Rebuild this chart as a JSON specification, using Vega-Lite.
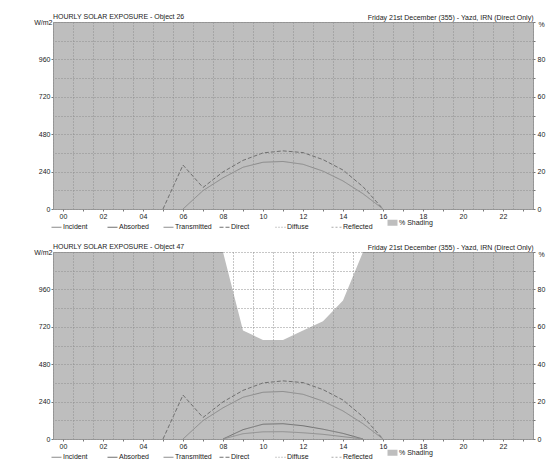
{
  "$schema": "https://vega.github.io/schema/vega-lite/v6.json",
  "padding": {"left": 33, "top": 12, "right": 5, "bottom": 0},
  "background": "white",
  "config": {
    "font": "Liberation Sans",
    "view": {"fill": "#bebebe", "stroke": "#9a9a9a", "strokeWidth": 1},
    "axis": {
      "labelFontSize": 7, "titleFontSize": 7, "titleFontWeight": "normal",
      "labelColor": "#222", "titleColor": "#222", "tickColor": "#777",
      "domain": false, "gridColor": "#8e8e8e", "gridDash": [1, 2], "gridWidth": 1,
      "tickSize": 2, "labelPadding": 1
    },
    "title": {"fontSize": 7, "fontWeight": "normal", "anchor": "start", "color": "#222", "frame": "group"},
    "legend": {
      "title": null, "orient": "bottom", "direction": "horizontal", "columns": 7,
      "gridAlign": "all", "labelFontSize": 7, "labelColor": "#222",
      "symbolType": "stroke", "symbolSize": 100, "symbolStrokeWidth": 1.2,
      "labelOffset": 3, "columnPadding": -5, "offset": 0, "padding": 0
    }
  },
  "datasets": {
    "shade26": [
      {"hour": 0, "shading": 100}, {"hour": 1, "shading": 100}, {"hour": 2, "shading": 100}, {"hour": 3, "shading": 100},
      {"hour": 4, "shading": 100}, {"hour": 5, "shading": 100}, {"hour": 6, "shading": 100}, {"hour": 7, "shading": 100},
      {"hour": 8, "shading": 100}, {"hour": 9, "shading": 100}, {"hour": 10, "shading": 100}, {"hour": 11, "shading": 100},
      {"hour": 12, "shading": 100}, {"hour": 13, "shading": 100}, {"hour": 14, "shading": 100}, {"hour": 15, "shading": 100},
      {"hour": 16, "shading": 100}, {"hour": 17, "shading": 100}, {"hour": 18, "shading": 100}, {"hour": 19, "shading": 100},
      {"hour": 20, "shading": 100}, {"hour": 21, "shading": 100}, {"hour": 22, "shading": 100}, {"hour": 23, "shading": 100}
    ],
    "shade47": [
      {"hour": 0, "shading": 100}, {"hour": 1, "shading": 100}, {"hour": 2, "shading": 100}, {"hour": 3, "shading": 100},
      {"hour": 4, "shading": 100}, {"hour": 5, "shading": 100}, {"hour": 6, "shading": 100}, {"hour": 7, "shading": 100},
      {"hour": 8, "shading": 100}, {"hour": 9, "shading": 58}, {"hour": 10, "shading": 53}, {"hour": 11, "shading": 53},
      {"hour": 12, "shading": 58}, {"hour": 13, "shading": 63}, {"hour": 14, "shading": 74}, {"hour": 15, "shading": 100},
      {"hour": 16, "shading": 100}, {"hour": 17, "shading": 100}, {"hour": 18, "shading": 100}, {"hour": 19, "shading": 100},
      {"hour": 20, "shading": 100}, {"hour": 21, "shading": 100}, {"hour": 22, "shading": 100}, {"hour": 23, "shading": 100}
    ],
    "lines26": [
      {"series": "Direct", "hour": 5, "value": 0}, {"series": "Direct", "hour": 6, "value": 282},
      {"series": "Direct", "hour": 7, "value": 138}, {"series": "Direct", "hour": 8, "value": 238},
      {"series": "Direct", "hour": 9, "value": 312}, {"series": "Direct", "hour": 10, "value": 360},
      {"series": "Direct", "hour": 11, "value": 373}, {"series": "Direct", "hour": 12, "value": 362},
      {"series": "Direct", "hour": 13, "value": 317}, {"series": "Direct", "hour": 14, "value": 250},
      {"series": "Direct", "hour": 15, "value": 143}, {"series": "Direct", "hour": 16, "value": 0},
      {"series": "Incident", "hour": 6, "value": 0}, {"series": "Incident", "hour": 7, "value": 118},
      {"series": "Incident", "hour": 8, "value": 200}, {"series": "Incident", "hour": 9, "value": 268},
      {"series": "Incident", "hour": 10, "value": 300}, {"series": "Incident", "hour": 11, "value": 305},
      {"series": "Incident", "hour": 12, "value": 287}, {"series": "Incident", "hour": 13, "value": 243},
      {"series": "Incident", "hour": 14, "value": 180}, {"series": "Incident", "hour": 15, "value": 98},
      {"series": "Incident", "hour": 16, "value": 0}
    ],
    "lines47": [
      {"series": "Direct", "hour": 5, "value": 0}, {"series": "Direct", "hour": 6, "value": 282},
      {"series": "Direct", "hour": 7, "value": 138}, {"series": "Direct", "hour": 8, "value": 238},
      {"series": "Direct", "hour": 9, "value": 312}, {"series": "Direct", "hour": 10, "value": 360},
      {"series": "Direct", "hour": 11, "value": 373}, {"series": "Direct", "hour": 12, "value": 362},
      {"series": "Direct", "hour": 13, "value": 317}, {"series": "Direct", "hour": 14, "value": 250},
      {"series": "Direct", "hour": 15, "value": 143}, {"series": "Direct", "hour": 16, "value": 0},
      {"series": "Incident", "hour": 6, "value": 0}, {"series": "Incident", "hour": 7, "value": 118},
      {"series": "Incident", "hour": 8, "value": 200}, {"series": "Incident", "hour": 9, "value": 268},
      {"series": "Incident", "hour": 10, "value": 300}, {"series": "Incident", "hour": 11, "value": 305},
      {"series": "Incident", "hour": 12, "value": 287}, {"series": "Incident", "hour": 13, "value": 243},
      {"series": "Incident", "hour": 14, "value": 180}, {"series": "Incident", "hour": 15, "value": 98},
      {"series": "Incident", "hour": 16, "value": 0},
      {"series": "Absorbed", "hour": 8, "value": 0}, {"series": "Absorbed", "hour": 9, "value": 60},
      {"series": "Absorbed", "hour": 10, "value": 95}, {"series": "Absorbed", "hour": 11, "value": 98},
      {"series": "Absorbed", "hour": 12, "value": 85}, {"series": "Absorbed", "hour": 13, "value": 63},
      {"series": "Absorbed", "hour": 14, "value": 36}, {"series": "Absorbed", "hour": 15, "value": 0},
      {"series": "Transmitted", "hour": 8, "value": 0}, {"series": "Transmitted", "hour": 9, "value": 34},
      {"series": "Transmitted", "hour": 10, "value": 46}, {"series": "Transmitted", "hour": 11, "value": 47},
      {"series": "Transmitted", "hour": 12, "value": 40}, {"series": "Transmitted", "hour": 13, "value": 30},
      {"series": "Transmitted", "hour": 14, "value": 15}, {"series": "Transmitted", "hour": 15, "value": 0}
    ]
  },
  "spacing": 6,
  "resolve": {"scale": {"color": "independent", "strokeDash": "independent"}, "legend": {"color": "independent", "strokeDash": "independent"}},
  "vconcat": [
    {
      "width": 480, "height": 187,
      "title": {"text": "HOURLY SOLAR EXPOSURE - Object 26", "offset": -7},
      "layer": [
        {
          "data": {"name": "shade26"},
          "mark": {"type": "area", "color": "white", "opacity": 1},
          "encoding": {
            "x": {"field": "hour", "type": "quantitative",
              "scale": {"domain": [-0.5, 23.5], "nice": false, "zero": false},
              "axis": {"orient": "top", "values": [-0.5,0.5,1.5,2.5,3.5,4.5,5.5,6.5,7.5,8.5,9.5,10.5,11.5,12.5,13.5,14.5,15.5,16.5,17.5,18.5,19.5,20.5,21.5,22.5,23.5],
                "grid": true, "labels": false, "ticks": false, "zindex": 1,
                "title": "Friday 21st December (355) - Yazd, IRN (Direct Only)", "titleAnchor": "end", "titleAlign": "right", "titlePadding": 2}},
            "y": {"field": "shading", "type": "quantitative",
              "scale": {"domain": [0, 100], "nice": false},
              "axis": {"orient": "right", "values": [0,10,20,30,40,50,60,70,80,90,100], "grid": true, "zindex": 1,
                "labelExpr": "datum.value % 20 === 0 && datum.value < 100 ? datum.label : ''", "labelPadding": 2,
                "title": "%", "titleAngle": 0, "titleAlign": "left", "titleBaseline": "alphabetic", "titleX": 5, "titleY": 4}},
            "y2": {"datum": 100}
          }
        },
        {
          "data": {"name": "lines26"},
          "mark": {"type": "line", "strokeWidth": 1},
          "encoding": {
            "x": {"field": "hour", "type": "quantitative",
              "axis": {"orient": "bottom", "values": [0,1,2,3,4,5,6,7,8,9,10,11,12,13,14,15,16,17,18,19,20,21,22,23],
                "format": "02d", "labelExpr": "datum.value % 2 === 0 ? datum.label : ''", "grid": false, "title": null}},
            "y": {"field": "value", "type": "quantitative",
              "scale": {"domain": [0, 1200], "nice": false},
              "axis": {"orient": "left", "values": [0,240,480,720,960], "grid": false,
                "title": "W/m2", "titleAngle": 0, "titleAlign": "right", "titleBaseline": "alphabetic", "titleX": -1, "titleY": 2}},
            "color": {"field": "series", "type": "nominal",
              "scale": {"domain": ["Incident","Absorbed","Transmitted","Direct","Diffuse","Reflected","% Shading"],
                "range": ["#8a8a8a","#707070","#8f8f8f","#707070","#9a9a9a","#aaaaaa","#bebebe"]},
              "legend": {"gridAlign": "all", "columns": 7, "columnPadding": -5, "encode": {"symbols": {"update": {"strokeWidth": {"signal": "datum.label === '% Shading' ? 6 : 1.2"}}}}}},
            "strokeDash": {"field": "series", "type": "nominal",
              "scale": {"domain": ["Incident","Absorbed","Transmitted","Direct","Diffuse","Reflected","% Shading"],
                "range": [[1,0],[1,0],[1,0],[4,2],[1,2],[2,2],[1,0]]}}
          }
        }
      ],
      "resolve": {"scale": {"y": "independent"}, "axis": {"x": "independent", "y": "independent"}}
    },
    {
      "width": 480, "height": 187,
      "title": {"text": "HOURLY SOLAR EXPOSURE - Object 47", "offset": -7},
      "layer": [
        {
          "data": {"name": "shade47"},
          "mark": {"type": "area", "color": "white", "opacity": 1},
          "encoding": {
            "x": {"field": "hour", "type": "quantitative",
              "scale": {"domain": [-0.5, 23.5], "nice": false, "zero": false},
              "axis": {"orient": "top", "values": [-0.5,0.5,1.5,2.5,3.5,4.5,5.5,6.5,7.5,8.5,9.5,10.5,11.5,12.5,13.5,14.5,15.5,16.5,17.5,18.5,19.5,20.5,21.5,22.5,23.5],
                "grid": true, "labels": false, "ticks": false, "zindex": 1,
                "title": "Friday 21st December (355) - Yazd, IRN (Direct Only)", "titleAnchor": "end", "titleAlign": "right", "titlePadding": 2}},
            "y": {"field": "shading", "type": "quantitative",
              "scale": {"domain": [0, 100], "nice": false},
              "axis": {"orient": "right", "values": [0,10,20,30,40,50,60,70,80,90,100], "grid": true, "zindex": 1,
                "labelExpr": "datum.value % 20 === 0 && datum.value < 100 ? datum.label : ''", "labelPadding": 2,
                "title": "%", "titleAngle": 0, "titleAlign": "left", "titleBaseline": "alphabetic", "titleX": 5, "titleY": 4}},
            "y2": {"datum": 100}
          }
        },
        {
          "data": {"name": "lines47"},
          "mark": {"type": "line", "strokeWidth": 1},
          "encoding": {
            "x": {"field": "hour", "type": "quantitative",
              "axis": {"orient": "bottom", "values": [0,1,2,3,4,5,6,7,8,9,10,11,12,13,14,15,16,17,18,19,20,21,22,23],
                "format": "02d", "labelExpr": "datum.value % 2 === 0 ? datum.label : ''", "grid": false, "title": null}},
            "y": {"field": "value", "type": "quantitative",
              "scale": {"domain": [0, 1200], "nice": false},
              "axis": {"orient": "left", "values": [0,240,480,720,960], "grid": false,
                "title": "W/m2", "titleAngle": 0, "titleAlign": "right", "titleBaseline": "alphabetic", "titleX": -1, "titleY": 2}},
            "color": {"field": "series", "type": "nominal",
              "scale": {"domain": ["Incident","Absorbed","Transmitted","Direct","Diffuse","Reflected","% Shading"],
                "range": ["#8a8a8a","#707070","#8f8f8f","#707070","#9a9a9a","#aaaaaa","#bebebe"]},
              "legend": {"gridAlign": "all", "columns": 7, "columnPadding": -5, "encode": {"symbols": {"update": {"strokeWidth": {"signal": "datum.label === '% Shading' ? 6 : 1.2"}}}}}},
            "strokeDash": {"field": "series", "type": "nominal",
              "scale": {"domain": ["Incident","Absorbed","Transmitted","Direct","Diffuse","Reflected","% Shading"],
                "range": [[1,0],[1,0],[1,0],[4,2],[1,2],[2,2],[1,0]]}}
          }
        }
      ],
      "resolve": {"scale": {"y": "independent"}, "axis": {"x": "independent", "y": "independent"}}
    }
  ]
}
